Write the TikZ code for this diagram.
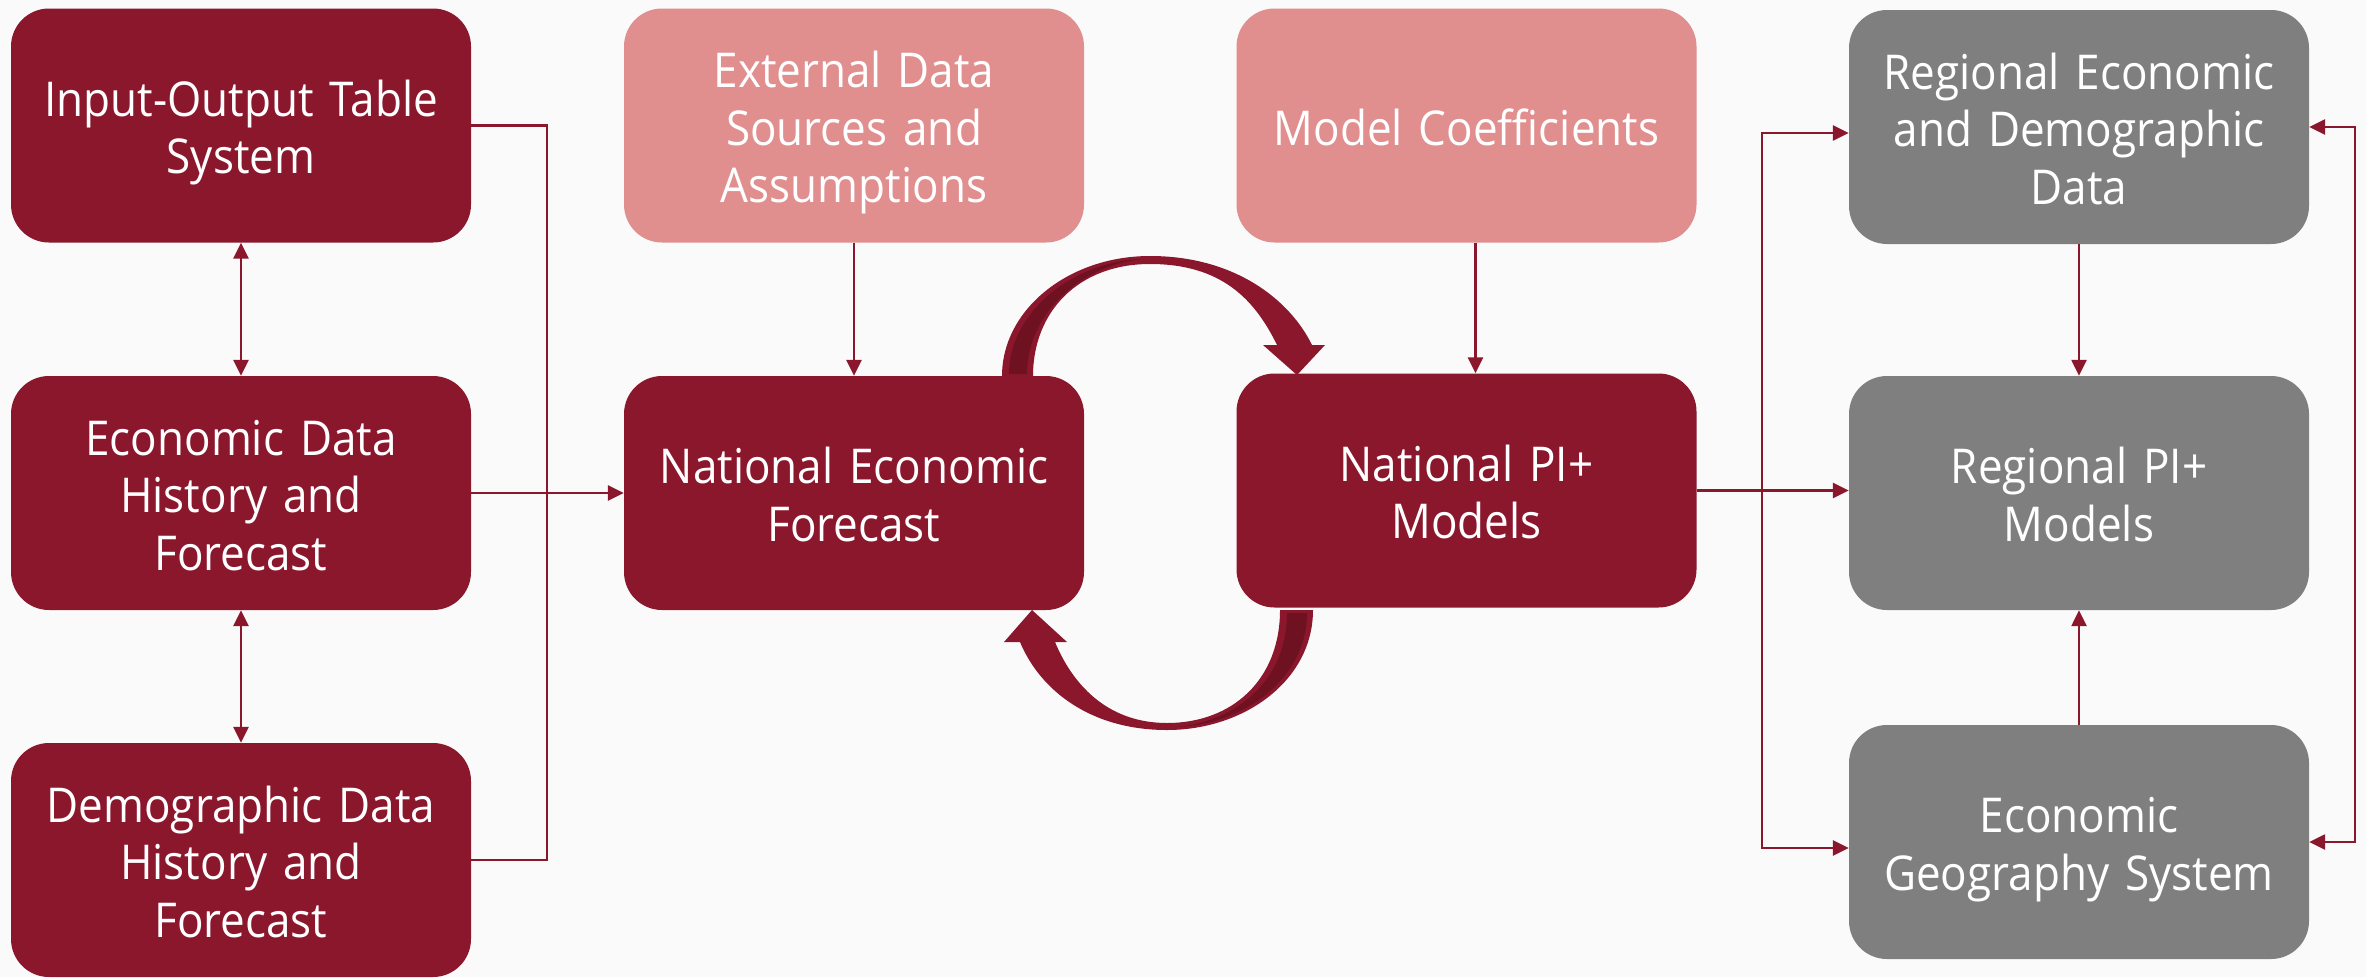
\documentclass[tikz,border=0pt]{standalone}
\usepackage{fontspec}
\setmainfont{Open Sans}[FakeStretch=0.917]
\usetikzlibrary{arrows.meta}
\definecolor{dred}{HTML}{8B172D}
\definecolor{ddred}{HTML}{6E1222}
\definecolor{pinkc}{HTML}{E08E8E}
\definecolor{grayc}{HTML}{7F7F7F}
\definecolor{bgc}{HTML}{FAFAFA}
\begin{document}
\begin{tikzpicture}[x=1pt,y=-1pt,
  box/.style={rounded corners=38pt, minimum width=460pt, minimum height=234pt,
    text width=440pt, align=center, text=white, inner sep=0pt,
    font=\fontsize{48}{57.5}\selectfont, text height=39pt},
  one/.style={text depth=0pt},
  two/.style={text depth=57.5pt},
  three/.style={text depth=115pt},
  redbox/.style={box, fill=dred},
  pinkbox/.style={box, fill=pinkc},
  graybox/.style={box, fill=grayc},
  conn/.style={draw=dred, line width=2.6pt},
  ar/.style={conn, -{Triangle[length=16pt,width=15pt]}},
  dar/.style={conn, {Triangle[length=16pt,width=15pt]}-{Triangle[length=16pt,width=15pt]}},
  bigarrow/.style={fill=dred},
  fold/.style={fill=ddred}]
\fill[bgc] (0,0) rectangle (2366,977);
\useasboundingbox (0,0) rectangle (2366,977);

% boxes
\node[redbox, two] (io) at (241,125.5) {Input-Output Table\\System};
\node[redbox, three] (eco) at (241,493) {Economic Data\\History and\\Forecast};
\node[redbox, three] (demo) at (241,860) {Demographic Data\\History and\\Forecast};
\node[pinkbox, three] (ext) at (854,125.5) {External Data\\Sources and\\Assumptions};
\node[redbox, two] (nef) at (854,493) {National Economic\\Forecast};
\node[pinkbox, one] (mc) at (1466.5,125.5) {Model Coefficients};
\node[redbox, two] (npi) at (1466.5,490.5) {National PI+\\Models};
\node[graybox, three] (red) at (2079,127) {Regional Economic\\and Demographic\\Data};
\node[graybox, two] (rpi) at (2079,493) {Regional PI+\\Models};
\node[graybox, two] (egs) at (2079,842) {Economic\\Geography System};

% left column connectors
\draw[dar] (io.south) -- (eco.north);
\draw[dar] (eco.south) -- (demo.north);
\coordinate (lb) at (547,0);
\draw[conn] (io.east) -- (io.east -| lb) |- (demo.east);
\draw[ar] (eco.east) -- (nef.west);

% middle connectors
\draw[ar] (ext.south) -- (nef.north);
\draw[ar] ([xshift=9pt]mc.south) -- ([xshift=9pt]npi.north);
\draw[ar] (npi.east) -- (npi.east -| rpi.west);

% right side connectors
\coordinate (rt) at (1762,133);
\coordinate (rb) at (1762,848);
\draw[dar] (rt -| red.west) -- (rt) -- (rb) -- (rb -| egs.west);
\draw[ar] (red.south) -- (rpi.north);
\draw[ar] (egs.north) -- (rpi.south);
\coordinate (rr) at (2355,0);
\draw[dar] (red.east) -- (red.east -| rr) -- (egs.east -| rr) -- (egs.east);

% top curved arrow (NEF -> National PI+)
\fill[bigarrow] (1002,376) .. controls (1002,310) and (1068,256) .. (1150,256)
  .. controls (1235,256) and (1290,300) .. (1312,345)
  -- (1325,345) -- (1297,375) -- (1263,345) -- (1277,345)
  .. controls (1255,300) and (1222,264) .. (1150,264)
  .. controls (1078,264) and (1033,312) .. (1033,376) -- cycle;
\fill[fold] (1009,374) .. controls (1009,314) and (1070,262) .. (1142,259)
  .. controls (1080,266) and (1027,314) .. (1027,374) -- cycle;

% bottom curved arrow (National PI+ -> NEF)
\fill[bigarrow] (1313,610) .. controls (1313,680) and (1245,730) .. (1167,730)
  .. controls (1090,730) and (1040,690) .. (1020,642)
  -- (1004,642) -- (1032,610) -- (1067,642) -- (1055,642)
  .. controls (1075,690) and (1112,723) .. (1167,723)
  .. controls (1232,723) and (1280,680) .. (1280,610) -- cycle;
\fill[fold] (1307,613) .. controls (1307,678) and (1245,724) .. (1178,727)
  .. controls (1240,720) and (1287,678) .. (1287,613) -- cycle;
\end{tikzpicture}
\end{document}
